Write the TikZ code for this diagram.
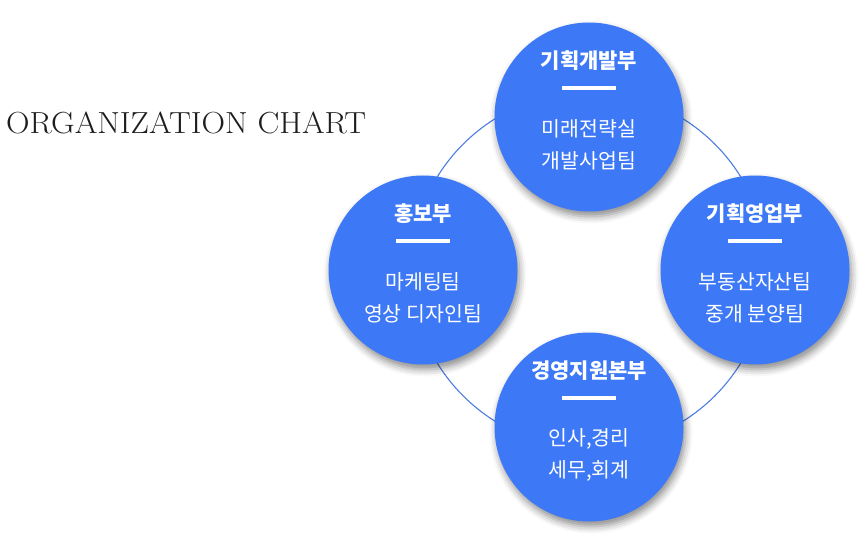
\documentclass[tikz,border=0pt]{standalone}
\usepackage{fontspec}
\newfontfamily\kr{Noto Sans CJK KR}
\usetikzlibrary{calc,shadows.blur}
\definecolor{bubblue}{HTML}{3D79F6}
\definecolor{ringblue}{HTML}{4D7EDF}
\definecolor{headink}{HTML}{1E1E1E}
\tikzset{
  bubble/.style={circle, fill=bubblue, minimum size=189pt, inner sep=0pt,
    blur shadow={shadow xshift=2pt, shadow yshift=-5pt, shadow blur radius=7pt, shadow opacity=45}},
  ttl/.style={text=white, font=\kr\bfseries\fontsize{21}{24}\selectfont, inner sep=0pt},
  bodytxt/.style={text=white, font=\kr\fontsize{20.5}{24}\selectfont, inner sep=0pt},
  bar/.style={draw=white, line width=3.6pt},
  ring/.style={draw=ringblue, line width=1.1pt},
}
\begin{document}
\begin{tikzpicture}[x=1pt,y=-1pt]
\useasboundingbox (0,0) rectangle (867,556);
\node[anchor=west, text=headink, font=\fontsize{30.5}{34}\selectfont, inner sep=0pt] (head) at (6,123) {\scalebox{1.07}[1]{ORGANIZATION CHART}};
\coordinate (ctr) at (589,270);
\draw[ring] (ctr) circle[radius=178];
\foreach \n/\p/\t/\a/\b in {
  dev/{589,117}/기획개발부/미래전략실/개발사업팀,
  pr/{423,270}/홍보부/마케팅팀/영상 디자인팀,
  sales/{755,270}/기획영업부/부동산자산팀/중개 분양팀,
  mgmt/{589,427}/경영지원본부/{인사,경리}/{세무,회계}}{
  \node[bubble] (\n) at (\p) {};
  \node[ttl] (\n-t) at ($(\n)+(0,-56)$) {\t};
  \draw[bar] ($(\n)+(-27,-29)$) coordinate (\n-bl) -- ($(\n)+(27,-29)$) coordinate (\n-br);
  \node[bodytxt] (\n-a) at ($(\n)+(0,12)$) {\a};
  \node[bodytxt] (\n-b) at ($(\n)+(0,44)$) {\b};
}
\end{tikzpicture}
\end{document}
